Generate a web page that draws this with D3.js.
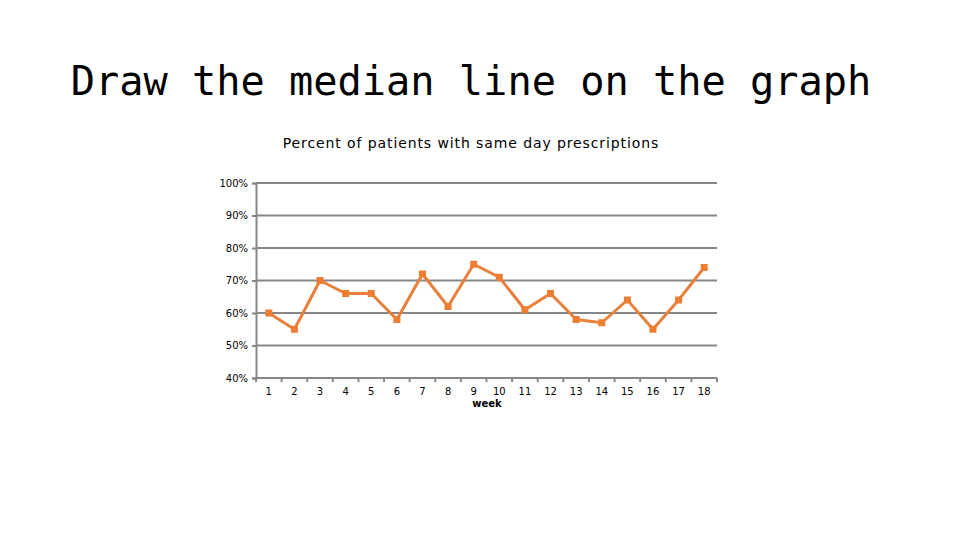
<!DOCTYPE html>
<html>
<head>
<meta charset="utf-8">
<script src="https://cdn.jsdelivr.net/npm/d3@7"></script>
<style>
  body { margin: 0; background: #fff; }
  svg { display: block; }
</style>
</head>
<body>
<svg id="chart" width="960" height="540"></svg>
<script>
// data
const weeks = ['1','2','3','4','5','6','7','8','9','10','11','12','13','14','15','16','17','18'];
const percents = [60, 55, 70, 66, 66, 58, 72, 62, 75, 71, 61, 66, 58, 57, 64, 55, 64, 74];
const yTicks = [40, 50, 60, 70, 80, 90, 100];

const svg = d3.select('#chart');

// page heading
svg.append('text')
    .attr('x', 471).attr('y', 95)
    .attr('text-anchor', 'middle')
    .style('font-family', '"DejaVu Sans Mono", monospace')
    .style('font-size', '40.3px')
    .style('fill', '#000')
    .text('Draw the median line on the graph');

// chart title
svg.append('text')
    .attr('x', 471).attr('y', 148)
    .attr('text-anchor', 'middle')
    .style('font-family', '"DejaVu Sans", Verdana, sans-serif')
    .style('font-size', '14px')
    .style('letter-spacing', '0.9px')
    .style('fill', '#000')
    .text('Percent of patients with same day prescriptions');

const plotL = 256, plotR = 717, plotT = 183, plotB = 378;

const x = d3.scaleBand().domain(weeks).range([plotL, plotR]);
const y = d3.scaleLinear().domain([40, 100]).range([plotB, plotT]);

const grey = '#878787';

// gridlines
svg.append('g')
    .selectAll('line')
    .data(yTicks.filter(d => d > 40))
    .enter().append('line')
    .attr('x1', plotL).attr('x2', plotR)
    .attr('y1', d => y(d)).attr('y2', d => y(d))
    .attr('stroke', grey).attr('stroke-width', 2);

// y axis
const yAxis = svg.append('g')
    .attr('transform', `translate(${plotL},0)`)
    .call(d3.axisLeft(y).tickValues(yTicks).tickSize(4).tickPadding(4).tickFormat(d => d + '%'));
yAxis.select('.domain').attr('stroke', grey).attr('stroke-width', 2);
yAxis.selectAll('.tick line').attr('stroke', grey).attr('stroke-width', 2);
yAxis.selectAll('text')
    .style('font-family', '"DejaVu Sans", Verdana, sans-serif')
    .style('font-size', '10px')
    .attr('fill', '#000');

// x axis: ticks at band edges
const xAxis = svg.append('g')
    .attr('transform', `translate(0,${plotB})`);
xAxis.append('line')
    .attr('x1', plotL - 1).attr('x2', plotR)
    .attr('stroke', grey).attr('stroke-width', 2);
xAxis.selectAll('.edge')
    .data(weeks.concat(['end']))
    .enter().append('line')
    .attr('class', 'edge')
    .attr('x1', (d, i) => plotL + i * x.step())
    .attr('x2', (d, i) => plotL + i * x.step())
    .attr('y1', 0).attr('y2', 4)
    .attr('stroke', grey).attr('stroke-width', 2);
xAxis.selectAll('.lbl')
    .data(weeks)
    .enter().append('text')
    .attr('class', 'lbl')
    .attr('x', d => x(d) + x.bandwidth() / 2)
    .attr('y', 17)
    .attr('text-anchor', 'middle')
    .style('font-family', '"DejaVu Sans", Verdana, sans-serif')
    .style('font-size', '10px')
    .style('fill', '#000')
    .text(d => d);

svg.append('text')
    .attr('x', 487).attr('y', 407)
    .attr('text-anchor', 'middle')
    .style('font-family', '"DejaVu Sans", Verdana, sans-serif')
    .style('font-size', '10px')
    .style('font-weight', 'bold')
    .style('fill', '#000')
    .text('week');

// series line
const line = d3.line()
    .x((d, i) => x(weeks[i]) + x.bandwidth() / 2)
    .y(d => y(d));

svg.append('path')
    .datum(percents)
    .attr('d', line)
    .attr('fill', 'none')
    .attr('stroke', '#E8803C')
    .attr('stroke-width', 3)
    .attr('stroke-linejoin', 'round');

svg.selectAll('.mark')
    .data(percents)
    .enter().append('rect')
    .attr('class', 'mark')
    .attr('x', (d, i) => x(weeks[i]) + x.bandwidth() / 2 - 3.5)
    .attr('y', d => y(d) - 3.5)
    .attr('width', 7).attr('height', 7)
    .attr('fill', '#ED7D31');
</script>
</body>
</html>
